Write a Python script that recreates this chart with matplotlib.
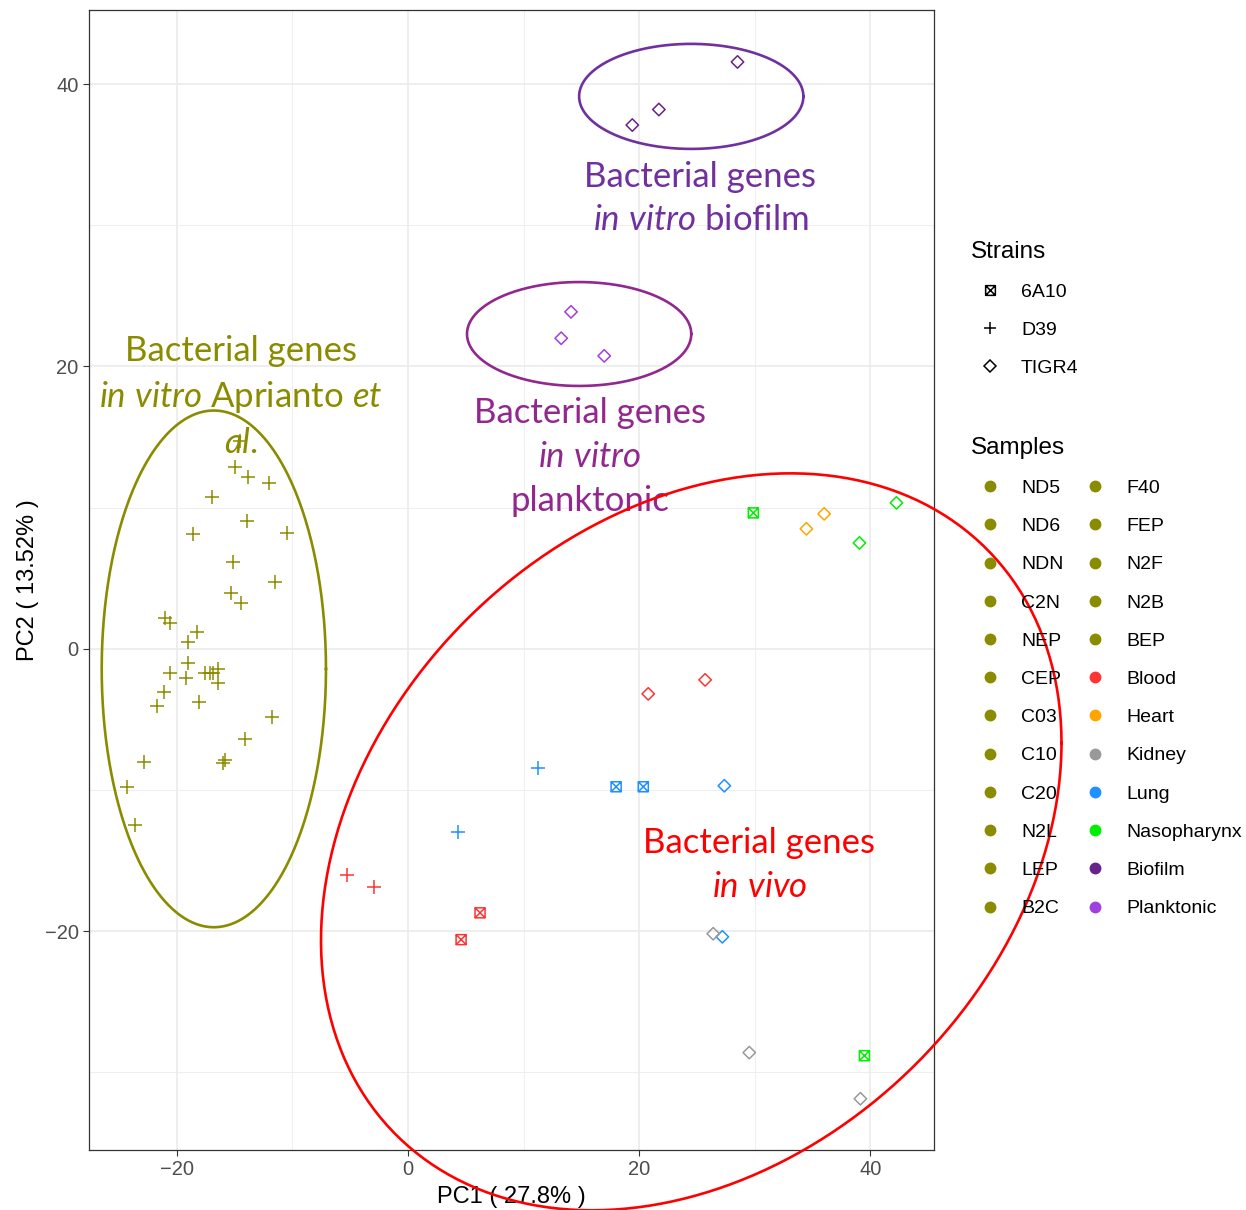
import numpy as np
import matplotlib
matplotlib.use("Agg")
import matplotlib.pyplot as plt
from matplotlib.path import Path
from matplotlib.lines import Line2D

plt.rcParams['font.family'] = ['Liberation Sans', 'DejaVu Sans']
plt.rcParams['mathtext.fontset'] = 'custom'
plt.rcParams['mathtext.rm'] = 'Lato'
plt.rcParams['mathtext.it'] = 'Lato:italic'

# in vitro (Aprianto et al.) samples, all D39
aprianto_pc1 = [-14.98, -13.85, -12.03, -16.97, -13.94, -18.61, -10.48, -15.15,
                -11.52, -15.32, -14.46, -21.0, -20.6, -18.27, -19.05, -19.05,
                -20.6, -19.2, -17.6, -17.1, -16.9, -16.45, -16.45, -21.1,
                -21.7, -18.1, -11.8, -14.1, -15.85, -16.0, -22.86, -24.3,
                -23.6, -14.55]
aprianto_pc2 = [12.89, 12.18, 11.76, 10.76, 9.07, 8.14, 8.22, 6.16,
                4.75, 3.97, 3.26, 2.2, 1.84, 1.2, 0.5, -1.0,
                -1.7, -2.05, -1.7, -1.7, -1.7, -1.42, -2.4, -3.05,
                -4.04, -3.75, -4.8, -6.4, -7.9, -8.1, -8.0, -9.8,
                -12.5, 14.73]

# in vitro TIGR4 samples
biofilm_pc1 = [28.5, 21.7, 19.4]
biofilm_pc2 = [41.57, 38.2, 37.1]
planktonic_pc1 = [14.1, 13.25, 16.97]
planktonic_pc2 = [23.87, 22.0, 20.75]

# in vivo samples
invivo_sample = ['Nasopharynx', 'Nasopharynx', 'Nasopharynx', 'Nasopharynx',
                 'Heart', 'Heart',
                 'Blood', 'Blood', 'Blood', 'Blood', 'Blood', 'Blood',
                 'Lung', 'Lung', 'Lung', 'Lung', 'Lung', 'Lung',
                 'Kidney', 'Kidney', 'Kidney']
invivo_strain = ['6A10', 'TIGR4', 'TIGR4', '6A10',
                 'TIGR4', 'TIGR4',
                 'TIGR4', 'TIGR4', 'D39', 'D39', '6A10', '6A10',
                 'D39', 'D39', '6A10', '6A10', 'TIGR4', 'TIGR4',
                 'TIGR4', 'TIGR4', 'TIGR4']
invivo_pc1 = [29.87, 42.25, 39.05, 39.48,
              34.46, 36.0,
              20.78, 25.7, -5.28, -2.94, 6.23, 4.59,
              11.26, 4.33, 18.0, 20.35, 27.36, 27.19,
              26.4, 29.52, 39.13]
invivo_pc2 = [9.63, 10.34, 7.5, -28.82,
              8.5, 9.56,
              -3.19, -2.2, -16.0, -16.9, -18.7, -20.6,
              -8.43, -12.96, -9.77, -9.77, -9.7, -20.4,
              -20.18, -28.6, -31.87]

strains = ['6A10', 'D39', 'TIGR4']
samples = ['ND5', 'ND6', 'NDN', 'C2N', 'NEP', 'CEP', 'C03', 'C10', 'C20', 'N2L',
           'LEP', 'B2C', 'F40', 'FEP', 'N2F', 'N2B', 'BEP', 'Blood', 'Heart',
           'Kidney', 'Lung', 'Nasopharynx', 'Biofilm', 'Planktonic']
olive = '#8B8B00'
colors = {'Blood': '#FF3333', 'Heart': '#FFA500', 'Kidney': '#999999',
          'Lung': '#1E90FF', 'Nasopharynx': '#00EE00', 'Biofilm': '#68228B',
          'Planktonic': '#A03EE0'}

# ellipses: centre, half extents, correlation
ell_names = ['aprianto', 'biofilm', 'planktonic', 'invivo']
ell_cx = [-16.8, 24.5, 14.8, 24.5]
ell_cy = [-1.42, 39.13, 22.3, -13.67]
ell_ax = [9.7, 9.7, 9.7, 32.03]
ell_by = [18.3, 3.72, 3.68, 26.1]
ell_r = [0.0, 0.0, 0.0, 0.268]
ell_col = [olive, '#7030A0', '#92278F', '#FF0000']

# text labels
lab_text = ['Bacterial genes\n$\\mathit{in\\ vitro}$ Aprianto $\\mathit{et}$\n$\\mathit{al.}$',
            'Bacterial genes\n$\\mathit{in\\ vitro}$ biofilm',
            'Bacterial genes\n$\\mathit{in\\ vitro}$\nplanktonic',
            'Bacterial genes\n$\\mathit{in\\ vivo}$']
lab_x = [-14.46, 25.3, 15.7, 30.4]
lab_y = [17.85, 31.9, 13.6, -15.3]

sq = Path([(-1, -1), (1, -1), (1, 1), (-1, 1), (-1, -1), (1, 1), (-1, 1), (1, -1)],
          [Path.MOVETO, Path.LINETO, Path.LINETO, Path.LINETO, Path.CLOSEPOLY,
           Path.LINETO, Path.MOVETO, Path.LINETO])
markers = {'6A10': sq, 'D39': '+', 'TIGR4': 'D'}
msize = {'6A10': 52, 'D39': 92, 'TIGR4': 40}


def draw_points(ax, xs, ys, color, strain):
    m = markers[strain]
    if strain == 'D39':
        ax.scatter(xs, ys, marker=m, s=msize[strain], c=color, linewidths=1.1, zorder=3)
    else:
        ax.scatter(xs, ys, marker=m, s=msize[strain], facecolors='none',
                   edgecolors=color, linewidths=1.1, zorder=3)


fig = plt.figure(figsize=(12.46, 12.10), dpi=100)
ax = fig.add_axes([89 / 1246, 1 - 1150 / 1210, (934 - 89) / 1246, (1150 - 10) / 1210])

draw_points(ax, aprianto_pc1, aprianto_pc2, olive, 'D39')
draw_points(ax, biofilm_pc1, biofilm_pc2, colors['Biofilm'], 'TIGR4')
draw_points(ax, planktonic_pc1, planktonic_pc2, colors['Planktonic'], 'TIGR4')
for i in range(len(invivo_pc1)):
    draw_points(ax, [invivo_pc1[i]], [invivo_pc2[i]], colors[invivo_sample[i]], invivo_strain[i])

for i in range(len(lab_text)):
    ax.text(lab_x[i], lab_y[i], lab_text[i], color=ell_col[i],
            fontsize=25, family='Lato', ha='center', va='center',
            multialignment='center', linespacing=1.45, zorder=4, clip_on=False)

t = np.linspace(0, 2 * np.pi, 400)
for i in range(len(ell_names)):
    ex = ell_cx[i] + ell_ax[i] * np.cos(t)
    ey = ell_cy[i] + ell_by[i] * (ell_r[i] * np.cos(t) + np.sqrt(1 - ell_r[i] ** 2) * np.sin(t))
    ax.plot(ex, ey, color=ell_col[i], lw=1.9, zorder=5, clip_on=False)

ax.set_xlim(-27.6, 45.5)
ax.set_ylim(-35.5, 45.25)
ax.set_xticks([-20, 0, 20, 40])
ax.set_yticks([-20, 0, 20, 40])
ax.set_xticks([-10, 10, 30], minor=True)
ax.set_yticks([-30, -10, 10, 30], minor=True)
ax.grid(which='major', color='#EBEBEB', lw=1.2, zorder=0)
ax.grid(which='minor', color='#EBEBEB', lw=0.6, zorder=0)
ax.set_axisbelow(True)
ax.tick_params(which='major', length=4, width=0.8, color='#333333',
               labelsize=14.5, labelcolor='#4D4D4D')
ax.tick_params(which='minor', length=0)
for s in ax.spines.values():
    s.set_color('#333333')
    s.set_linewidth(0.9)
ax.set_xlabel('PC1 ( 27.8% )', fontsize=17, labelpad=5)
ax.set_ylabel('PC2 ( 13.52% )', fontsize=17, labelpad=4)

strain_handles = [Line2D([], [], ls='none', marker=markers[s], color='black',
                         markerfacecolor='none', markersize=7 if s != 'D39' else 9,
                         markeredgewidth=1.1) for s in strains]
strain_handles[2].set_markersize(6.5)
leg1 = fig.legend(strain_handles, strains, title='Strains', loc='upper left',
                  bbox_to_anchor=(961 / 1246, 1 - 231 / 1210), frameon=False,
                  fontsize=14, title_fontsize=17.5, alignment='left', borderpad=0,
                  handlelength=1.96, handletextpad=0.62, labelspacing=1.05)

sample_handles = []
for s in samples:
    c = colors.get(s, olive)
    sample_handles.append(Line2D([], [], ls='none', marker='o', color=c, markersize=7.5))
leg2 = fig.legend(sample_handles, samples, title='Samples', loc='upper left', ncol=2,
                  bbox_to_anchor=(961 / 1246, 1 - 427 / 1210), frameon=False,
                  fontsize=14, title_fontsize=17.5, alignment='left', borderpad=0,
                  handlelength=1.96, handletextpad=0.62, labelspacing=1.06,
                  columnspacing=0.64)

fig.savefig('out.png', dpi=100)
